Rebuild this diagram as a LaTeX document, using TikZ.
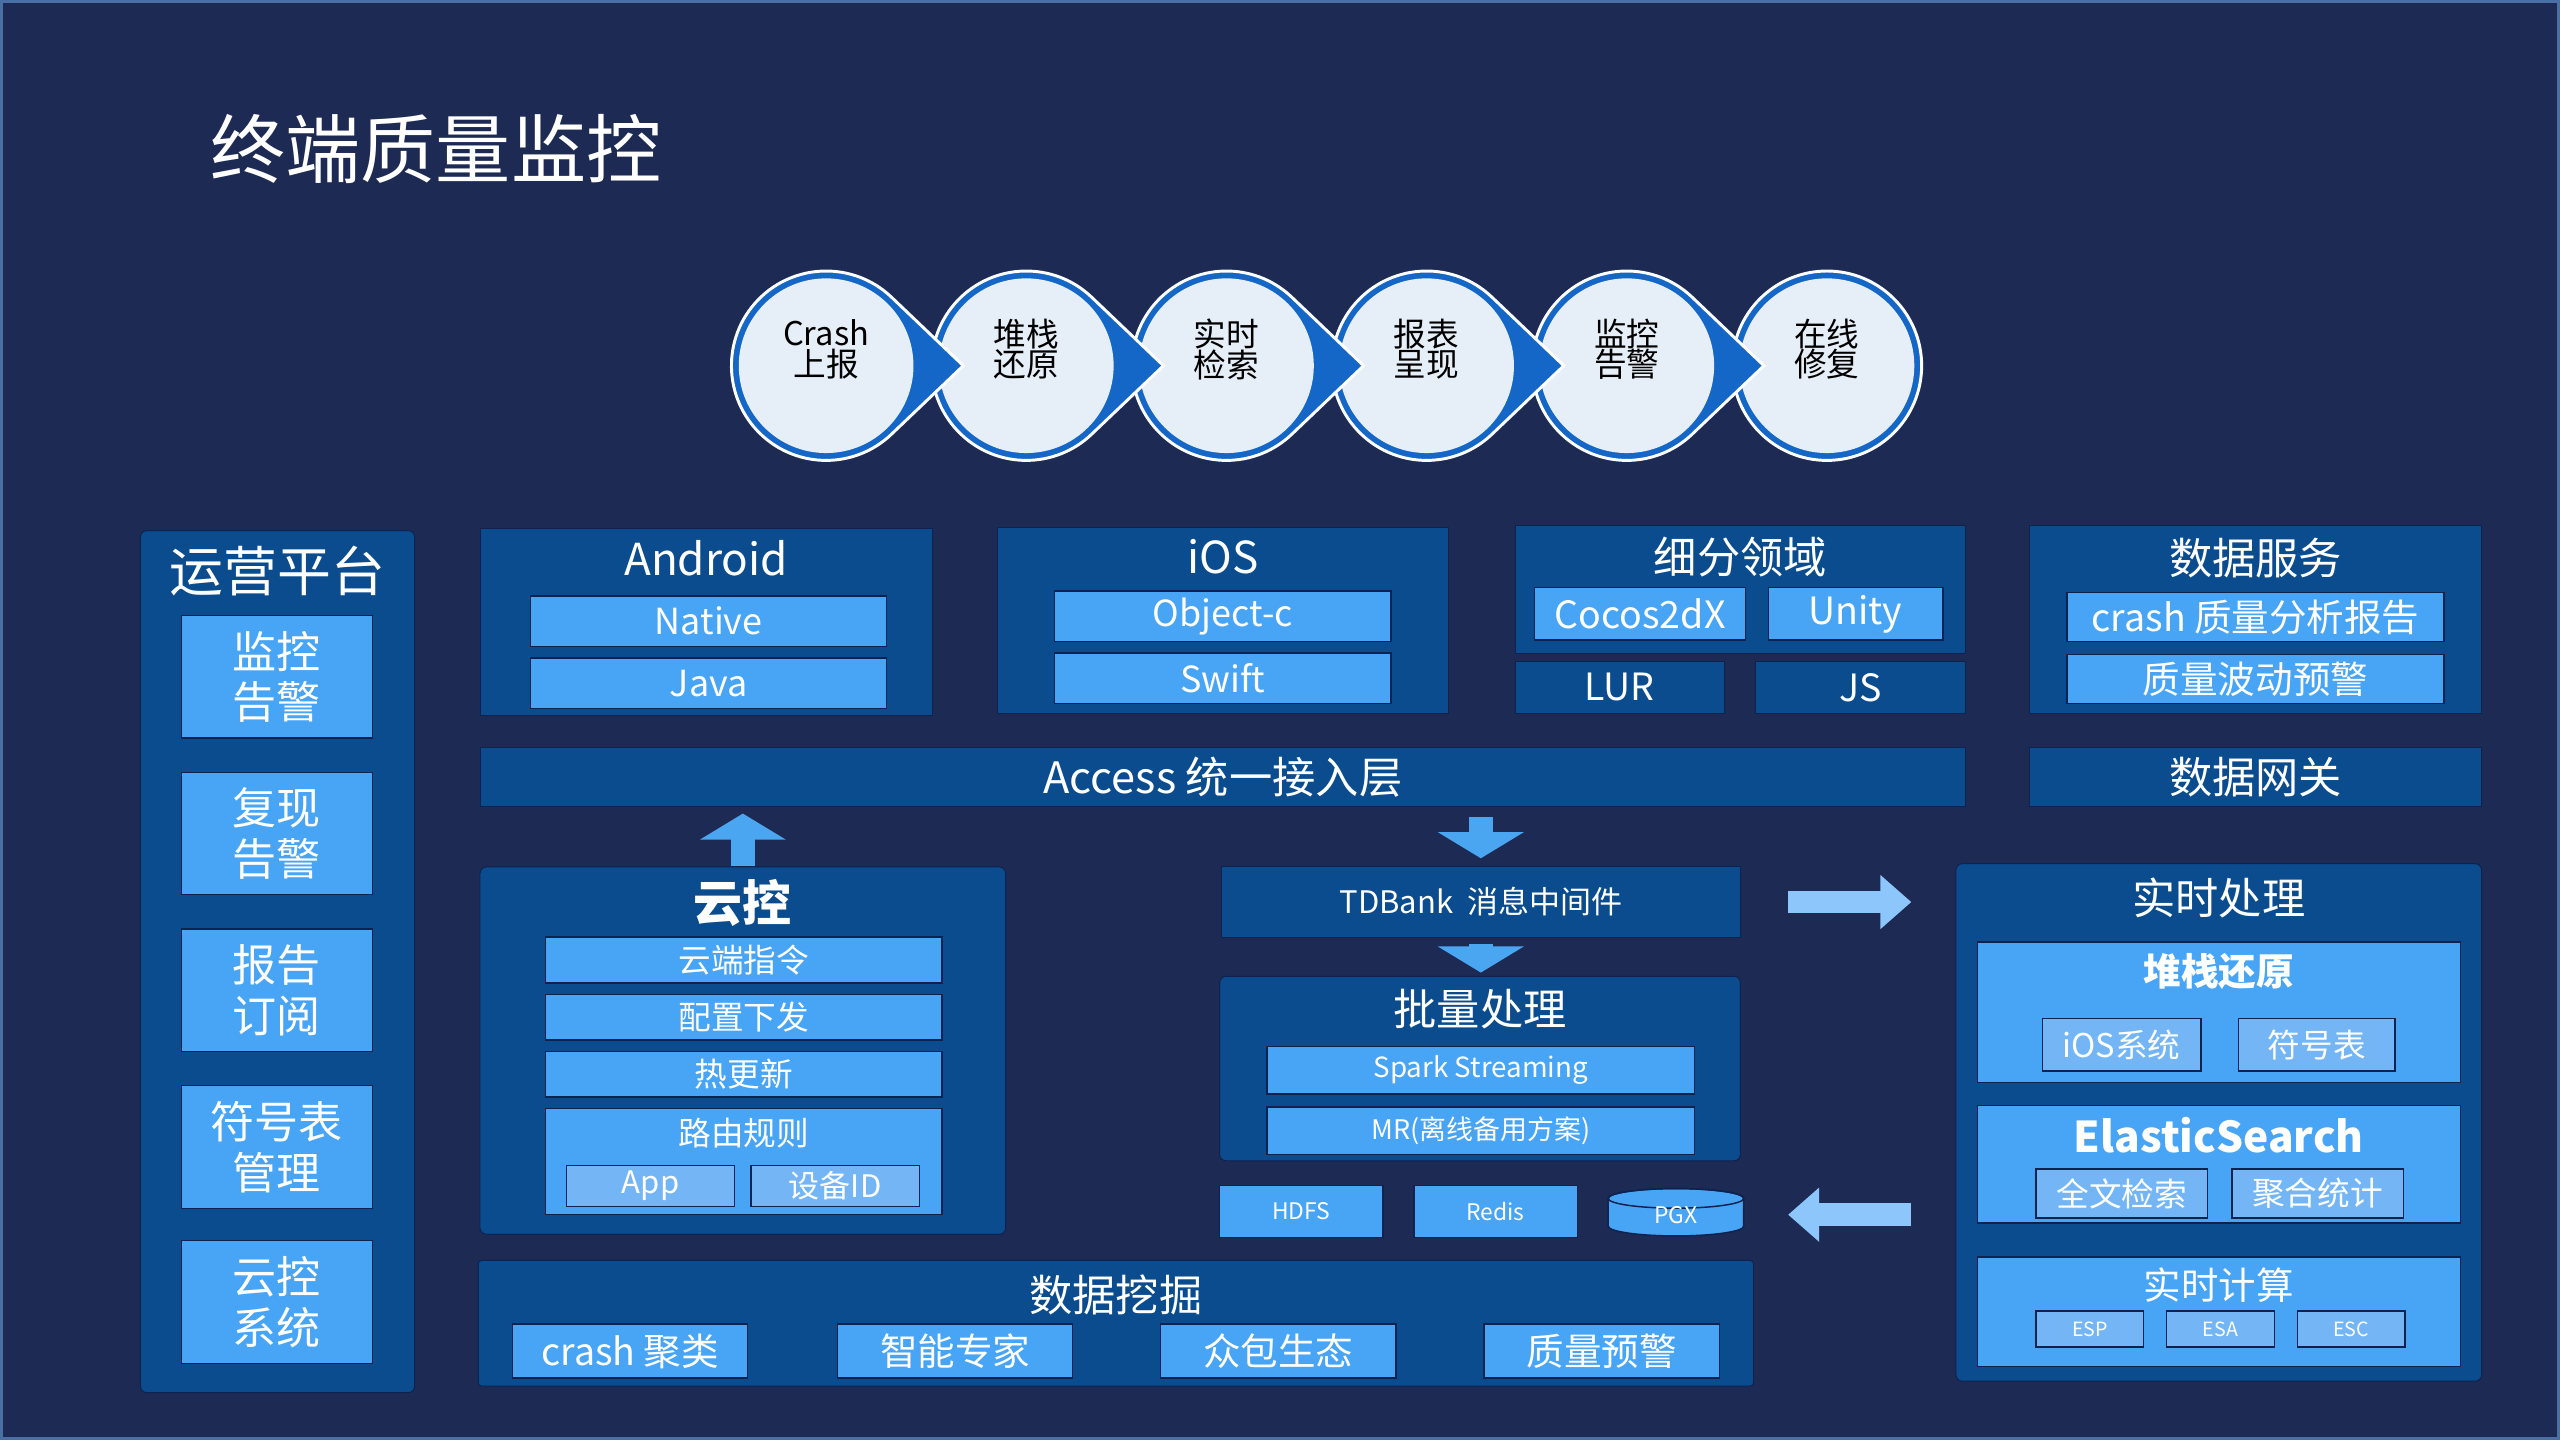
\documentclass[tikz,border=0pt]{standalone}
\usepackage{fontspec}
\setmainfont{Noto Sans CJK SC}
\usetikzlibrary{arrows.meta}
\definecolor{bgc}{HTML}{1D2A54}
\definecolor{framec}{HTML}{4A6FA5}
\definecolor{panelc}{HTML}{0A4C8E}
\definecolor{edgec}{HTML}{0E2250}
\definecolor{lboxc}{HTML}{48A4F4}
\definecolor{sboxc}{HTML}{74B6F5}
\definecolor{ringc}{HTML}{1467C7}
\definecolor{innerc}{HTML}{E6EEF7}
\definecolor{varrowc}{HTML}{4BA6F2}
\definecolor{harrowc}{HTML}{8DC6FA}
\newcommand\fsz[2]{\fontsize{#1}{#2}\selectfont}
\tikzset{
  panel/.style={fill=panelc, draw=edgec, line width=0.6pt, inner sep=0pt},
  rpanel/.style={panel, rounded corners=4pt},
  lbox/.style={fill=lboxc, draw=edgec, line width=0.8pt, text=white, inner sep=0pt},
  sbox/.style={fill=sboxc, draw=edgec, line width=0.8pt, text=white, inner sep=0pt},
  ttl/.style={text=white, inner sep=0pt},
  ctext/.style={text=black, inner sep=0pt, align=center, font=\fsz{20}{18.5}},
  varrow/.style={draw=varrowc, line width=15pt, line cap=butt,
     -{Triangle[width=52pt, length=16pt]}},
  harrow/.style={draw=harrowc, line width=14pt, line cap=butt,
     -{Triangle[width=32pt, length=19pt]}},
}
\begin{document}
\begin{tikzpicture}[x=1pt,y=-1pt]
\useasboundingbox (0,0) rectangle (1568,882);
\fill[bgc] (0,0) rectangle (1568,882);
\draw[framec, line width=2pt] (1,1) rectangle (1567,881);

% title
\node[ttl, font=\fsz{46}{50}] (title) at (267,91) {终端质量监控};

% process chain
\begin{scope}[shift={(1119,224)}]
  \filldraw[fill=ringc, draw=white, line width=1.8pt] (0,0) circle[radius=58pt];
  \fill[innerc] (0,0) circle[radius=53.5pt];
\end{scope}
\node[ctext] (s6) at (1119,214) {在线\\修复};
\foreach \n/\cx/\txt in {5/996.4/{监控\\告警}, 4/873.8/{报表\\呈现}, 3/751.2/{实时\\检索}, 2/628.6/{堆栈\\还原}, 1/506/{Crash\\上报}}{
  \begin{scope}[shift={(\cx,224)}]
    \filldraw[fill=ringc, draw=white, line width=1.8pt, line join=miter]
      (46.3:58pt) arc[start angle=46.3, end angle=313.7, radius=58pt] -- (84pt,0pt) -- cycle;
    \fill[innerc] (0,0) circle[radius=53.5pt];
  \end{scope}
  \node[ctext] (s\n) at (\cx,214) {\txt};
}

% left operations panel
\node[rpanel, minimum width=168pt, minimum height=528pt] (ops) at (170,589) {};
\node[ttl, font=\fsz{33}{36}] (opsT) at (170,350) {运营平台};
\foreach \n/\cy/\txt in {1/414.5/{监控\\告警}, 2/510.5/{复现\\告警}, 3/606.5/{报告\\订阅}, 4/702.5/{符号表\\管理}, 5/797.5/{云控\\系统}}{
  \node[lbox, minimum width=117pt, minimum height=75pt, align=center, font=\fsz{27}{31}] (op\n) at (169.5,\cy) {\txt};
}

% Android
\node[panel, minimum width=277pt, minimum height=114pt] (and) at (432.5,381) {};
\node[ttl, font=\fsz{27}{30}] (andT) at (432.5,342) {Android};
\node[lbox, minimum width=218pt, minimum height=31pt, font=\fsz{22}{24}] (nat) at (434,380.5) {Native};
\node[lbox, minimum width=218pt, minimum height=31pt, font=\fsz{22}{24}] (java) at (434,418.5) {Java};

% iOS
\node[panel, minimum width=276pt, minimum height=114pt] (ios) at (749,380) {};
\node[ttl, font=\fsz{27}{30}] (iosT) at (749,341) {iOS};
\node[lbox, minimum width=206pt, minimum height=31pt, font=\fsz{22}{24}] (objc) at (749,377.5) {Object-c};
\node[lbox, minimum width=206pt, minimum height=31pt, font=\fsz{22}{24}] (swift) at (749,415.5) {Swift};

% segments
\node[panel, minimum width=276pt, minimum height=78pt] (seg) at (1066,361) {};
\node[ttl, font=\fsz{26.5}{30}] (segT) at (1066,341) {细分领域};
\node[lbox, minimum width=129pt, minimum height=32pt, font=\fsz{23}{25}] (cocos) at (1004.5,376) {Cocos2dX};
\node[lbox, minimum width=107pt, minimum height=32pt, font=\fsz{23}{25}] (unity) at (1136.5,376) {Unity};
\node[panel, minimum width=128pt, minimum height=32pt, text=white, font=\fsz{23}{25}] (lur) at (992,421) {LUR};
\node[panel, minimum width=129pt, minimum height=32pt, text=white, font=\fsz{23}{25}] (js) at (1139.5,421) {JS};

% data service
\node[panel, minimum width=277pt, minimum height=115pt] (dsv) at (1381.5,379.5) {};
\node[ttl, font=\fsz{26.5}{30}] (dsvT) at (1381.5,342) {数据服务};
\node[lbox, minimum width=231pt, minimum height=30pt, font=\fsz{23}{25}] (rep) at (1381.5,378) {crash 质量分析报告};
\node[lbox, minimum width=231pt, minimum height=30pt, font=\fsz{23}{25}] (warn) at (1381.5,416) {质量波动预警};

% access layer and gateway
\node[panel, minimum width=910pt, minimum height=36pt, text=white, font=\fsz{26.5}{30}] (acc) at (749,476) {Access 统一接入层};
\node[panel, minimum width=277pt, minimum height=36pt, text=white, font=\fsz{26.5}{30}] (gw) at (1381.5,476) {数据网关};

% cloud control
\node[rpanel, minimum width=322pt, minimum height=225pt] (yk) at (455,643.5) {};
\node[ttl, font=\fsz{30}{32}\bfseries] (ykT) at (455,553) {云控};
\node[lbox, minimum width=243pt, minimum height=28pt, font=\fsz{20}{22}] (yk1) at (455.5,588) {云端指令};
\node[lbox, minimum width=243pt, minimum height=28pt, font=\fsz{20}{22}] (yk2) at (455.5,623) {配置下发};
\node[lbox, minimum width=243pt, minimum height=28pt, font=\fsz{20}{22}] (yk3) at (455.5,658) {热更新};
\node[lbox, minimum width=243pt, minimum height=65pt] (yk4) at (455.5,711.5) {};
\node[ttl, font=\fsz{20}{22}] (yk4T) at (455.5,694) {路由规则};
\node[sbox, minimum width=103pt, minimum height=25pt, font=\fsz{19}{21}] (app) at (398.5,726.5) {App};
\node[sbox, minimum width=103pt, minimum height=25pt, font=\fsz{19}{21}] (dev) at (511.5,726.5) {设备ID};

% TDBank and batch
\node[panel, minimum width=318pt, minimum height=43pt, text=white, font=\fsz{19}{21}] (tdb) at (907,552.5) {TDBank\ \ 消息中间件};
\node[rpanel, minimum width=319pt, minimum height=113pt] (batch) at (906.5,654.5) {};
\node[ttl, font=\fsz{26.5}{30}] (batchT) at (906.5,618) {批量处理};
\node[lbox, minimum width=262pt, minimum height=29pt, font=\fsz{17}{19}] (spark) at (907,655.5) {Spark Streaming};
\node[lbox, minimum width=262pt, minimum height=29pt, font=\fsz{16.5}{19}] (mr) at (907,692.5) {MR(离线备用方案)};

% storage
\node[lbox, minimum width=100pt, minimum height=32pt, font=\fsz{14}{16}] (hdfs) at (797,742) {HDFS};
\node[lbox, minimum width=100pt, minimum height=32pt, font=\fsz{14}{16}] (redis) at (916,742) {Redis};
\filldraw[fill=lboxc, draw=edgec, line width=0.9pt]
  (985,734) -- (985,751) arc[start angle=180, end angle=360, x radius=41.5pt, y radius=6pt]
  -- (1068,734) arc[start angle=0, end angle=180, x radius=41.5pt, y radius=6pt] -- cycle;
\draw[edgec, line width=0.9pt] (1026.5,734) ellipse[x radius=41.5pt, y radius=6pt];
\node[minimum width=83pt, minimum height=30pt, inner sep=0pt, text=white, font=\fsz{14}{16}] (pgx) at (1026.5,744) {PGX};

% real-time processing
\node[rpanel, minimum width=322pt, minimum height=317pt] (rt) at (1359,687.5) {};
\node[ttl, font=\fsz{26.5}{30}] (rtT) at (1359,550) {实时处理};
\node[lbox, minimum width=296pt, minimum height=86pt] (stk) at (1359,620) {};
\node[ttl, font=\fsz{23}{25}\bfseries] (stkT) at (1359,595) {堆栈还原};
\node[sbox, minimum width=97pt, minimum height=32pt, font=\fsz{20}{22}] (iossys) at (1299.5,640) {iOS系统};
\node[sbox, minimum width=96pt, minimum height=32pt, font=\fsz{20}{22}] (sym) at (1419,640) {符号表};
\node[lbox, minimum width=296pt, minimum height=72pt] (es) at (1359,713) {};
\node[ttl, font=\fsz{26}{28}\bfseries] (esT) at (1359,695) {ElasticSearch};
\node[sbox, minimum width=105pt, minimum height=30pt, font=\fsz{20}{22}] (ft) at (1299.5,731) {全文检索};
\node[sbox, minimum width=105pt, minimum height=30pt, font=\fsz{20}{22}] (agg) at (1419.5,731) {聚合统计};
\node[lbox, minimum width=296pt, minimum height=67pt] (rc) at (1359,803.5) {};
\node[ttl, font=\fsz{23}{25}] (rcT) at (1359,787) {实时计算};
\node[sbox, minimum width=66pt, minimum height=22pt, font=\fsz{12}{14}] (esp) at (1280,814) {ESP};
\node[sbox, minimum width=66pt, minimum height=22pt, font=\fsz{12}{14}] (esa) at (1360,814) {ESA};
\node[sbox, minimum width=66pt, minimum height=22pt, font=\fsz{12}{14}] (esc) at (1440,814) {ESC};

% data mining
\node[rpanel, rounded corners=2pt, minimum width=781pt, minimum height=77pt] (dm) at (683.5,810.5) {};
\node[ttl, font=\fsz{26.5}{30}] (dmT) at (683.5,793) {数据挖掘};
\node[lbox, minimum width=144pt, minimum height=33pt, font=\fsz{23}{25}] (dm1) at (386,827.5) {crash 聚类};
\node[lbox, minimum width=144pt, minimum height=33pt, font=\fsz{23}{25}] (dm2) at (585,827.5) {智能专家};
\node[lbox, minimum width=144pt, minimum height=33pt, font=\fsz{23}{25}] (dm3) at (783,827.5) {众包生态};
\node[lbox, minimum width=144pt, minimum height=33pt, font=\fsz{23}{25}] (dm4) at (981,827.5) {质量预警};

% block arrows
\draw[varrow, shorten >=4pt] (yk.north) -- (yk.north |- acc.south);
\draw[varrow, shorten <=6pt, shorten >=5pt] (tdb.north |- acc.south) -- (tdb.north);
\draw[varrow, shorten <=4pt, shorten >=2pt] (tdb.south) -- (tdb.south |- batch.north);
\draw[harrow, shorten <=29pt, shorten >=27pt] (tdb.east) -- (tdb.east -| rt.west);
\draw[harrow, shorten <=27pt, shorten >=27pt] (rt.west |- pgx.east) -- (pgx.east);
\end{tikzpicture}
\end{document}
